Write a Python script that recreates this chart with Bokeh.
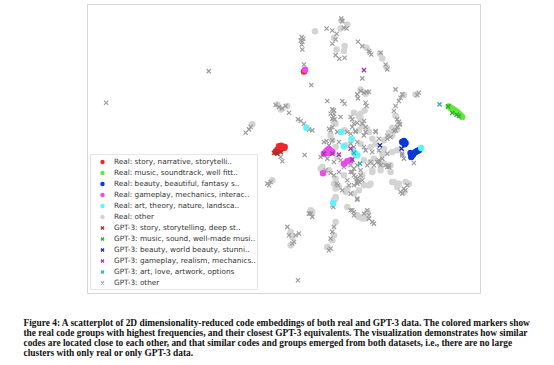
from bokeh.plotting import figure
from bokeh.models import Range1d, Legend, LegendItem, ColumnDataSource, BoxAnnotation
from bokeh.core.properties import value
from bokeh.embed import file_html
from bokeh.resources import INLINE

# 2D embedding coordinates (dim1, dim2) (dim2 grows downward)
real_other = [
    (703,92),(782,60),(760,112),(768,147),(792,137),(790,152),(800,72),(780,84),
    (858,142),(898,160),(905,174),(918,200),(840,267),(855,280),(970,284),(1005,282),
    (852,330),(945,347),(820,337),(835,347),(845,377),(860,387),(935,382),(925,397),(950,387),
    (590,312),(600,327),(620,317),(515,372),(792,390),
    (760,365),(840,340),(840,355),(765,370),(750,405),(835,390),(865,395),(875,415),(885,430),
    (910,420),(935,405),(955,370),(755,420),(765,440),(795,435),(840,430),(870,440),(910,445),
    (905,460),(935,455),(950,450),(770,470),(850,480),(880,475),(910,490),(725,500),(745,510),
    (765,535),(790,525),(850,555),(865,555),(875,515),(900,510),(930,515),(940,545),(955,550),
    (975,545),(775,560),(800,565),(835,570),(765,590),(760,600),(800,620),(830,645),(855,655),
    (690,630),(575,540),(720,505),(760,550),(765,565),(795,575),(765,595),(695,635),(765,665),
    (760,705),(755,720),(740,740),(630,695),(635,710),(630,735),(870,485),(900,490),(930,495),
    (830,540),(845,525),(870,550),(875,510),(935,545),(950,560),(985,550),(970,575),(820,580),
    (835,650),(845,655),(860,635),
]
gpt_other = [
    (663,110),(668,115),(660,120),(665,124),(663,132),(665,147),(738,84),(755,90),(782,54),
    (785,62),(790,82),(798,84),(768,100),(765,117),(755,130),(765,164),(776,175),(792,172),
    (670,192),(692,254),(832,124),(845,137),(868,157),(872,162),(865,152),(900,157),(915,192),
    (920,207),(845,234),(945,267),(830,282),(840,272),(850,277),(858,274),(865,274),(832,294),
    (855,307),(858,317),(965,282),(960,292),(955,302),(1015,277),(1010,284),(945,317),(940,332),
    (950,357),(955,364),(815,357),(830,367),(850,362),(825,392),(885,392),(940,392),(958,372),
    (920,407),(930,410),(585,314),(595,320),(605,324),(615,317),(625,337),(652,357),(660,362),
    (670,370),(685,387),(695,390),(495,397),(505,387),(510,380),(600,470),(605,483),(672,464),
    (560,550),(570,545),(565,555),(384,212),(76,307),(740,302),(755,327),(760,340),(758,350),
    (762,357),(785,302),(792,310),(750,390),(770,394),(738,422),(755,420),(750,340),(760,330),
    (755,355),(780,350),(810,350),(820,370),(815,380),(845,370),(855,380),(855,395),(745,385),
    (755,380),(770,395),(800,395),(810,400),(825,395),(850,405),(885,395),(895,415),(920,415),
    (945,390),(950,380),(730,425),(745,435),(775,425),(810,430),(820,440),(830,425),(850,440),
    (855,450),(875,455),(895,450),(920,460),(965,460),(970,475),(720,470),(740,475),(760,485),
    (780,480),(790,500),(810,495),(820,505),(830,495),(840,510),(860,495),(870,485),(890,485),
    (895,480),(905,475),(900,495),(920,500),(925,495),(760,525),(775,515),(810,515),(820,525),
    (830,535),(840,525),(830,545),(845,540),(960,575),(970,565),(980,555),(785,570),(810,580),
    (830,595),(755,615),(810,630),(820,635),(850,640),(860,630),(865,645),(685,640),(695,650),
    (735,510),(750,518),(768,550),(772,555),(800,540),(805,555),(758,620),(690,640),(760,680),
    (755,695),(750,715),(745,750),(750,745),(620,680),(625,705),(645,705),(655,700),(640,725),
    (635,730),(652,840),(1000,488),(965,465),(880,495),(895,485),(915,495),(925,500),(815,515),
    (825,530),(835,545),(830,550),(820,555),(965,580),(975,570),(830,598),(815,630),(820,645),
    (865,655),(875,665),(880,670),
]
real_story = [(670,213),(595,438),(602,436),(610,443),(605,440),(590,448),(598,450),(585,455),(612,440)]
gpt_story = [(580,458),(590,460),(600,455),(585,452)]
real_music = [(1110,322),(1120,328),(1125,332),(1130,335),(1135,340),(1140,345),(1145,350),(1105,318),(1115,325)]
gpt_music = [(1103,318),(1115,338),(1128,343),(1135,347)]
real_beauty = [(965,425),(970,422),(975,428),(972,432),(990,458),(995,465),(992,470),(998,462),(1005,455),(1010,452),(1015,450)]
gpt_beauty = [(898,435),(963,445)]
real_gameplay = [(673,208),(735,455),(740,450),(745,446),(750,452),(745,458),(755,455),(730,460),(727,519),(790,490),(800,483),(810,480)]
gpt_gameplay = [(850,209),(730,460),(775,463),(810,445),(815,478),(755,460)]
real_art = [(677,382),(782,395),(813,416),(790,438),(825,462),(830,465),(758,608),(1022,443),(820,455)]
gpt_art = [(1077,312),(838,490),(820,458)]

labels_real = ["Real: story, narrative, storytelli..", "Real: music, soundtrack, well fitt..",
               "Real: beauty, beautiful, fantasy s..", "Real: gameplay, mechanics, interac..",
               "Real: art, theory, nature, landsca..", "Real: other"]
labels_gpt = ["GPT-3: story, storytelling, deep st..", "GPT-3: music, sound, well-made musi..",
              "GPT-3: beauty, world beauty, stunni..", "GPT-3: gameplay, realism, mechanics..",
              "GPT-3: art, love, artwork, options", "GPT-3: other"]
colors_real = ["#ec2a2a", "#5fe83a", "#0838d8", "#ee48ee", "#5ff2ff", "#d4d4d4"]
colors_gpt = ["#b42828", "#34a834", "#1a26a8", "#a436b4", "#3aacb0", "#9c9c9c"]

caption = [
    "Figure 4: A scatterplot of 2D dimensionality-reduced code embeddings of both real and GPT-3 data. The colored markers show",
    "the real code groups with highest frequencies, and their closest GPT-3 equivalents. The visualization demonstrates how similar",
    "codes are located close to each other, and that similar codes and groups emerged from both datasets, i.e., there are no large",
    "clusters with only real or only GPT-3 data.",
]

# ---- layout (pixels) ----
W, H = 554, 365
AX_L, AX_R, AX_T, AX_B = 87, 480, 4, 293          # axes box in pixels
X0, X1, Y0, Y1 = 20, 1200, 12, 880                # data limits of the axes box
sx = (X1 - X0) / (AX_R - AX_L)
sy = (Y1 - Y0) / (AX_B - AX_T)
xr = Range1d(X0 - AX_L * sx, X1 + (W - AX_R) * sx)
yr = Range1d(Y1 + (H - AX_B) * sy, Y0 - AX_T * sy)   # dim2 grows downward

p = figure(width=W, height=H, output_backend="svg", toolbar_location=None,
           x_range=xr, y_range=yr, x_axis_location=None, y_axis_location=None,
           min_border=0, min_border_left=0, min_border_right=0,
           min_border_top=0, min_border_bottom=0)
p.xgrid.visible = False
p.ygrid.visible = False
p.outline_line_color = None
p.background_fill_color = "white"
p.border_fill_color = "white"

# axes box
p.add_layout(BoxAnnotation(left=X0, right=X1, top=Y0, bottom=Y1, fill_alpha=0,
                           line_color="#767676", line_width=1, level="underlay"))


def xs(pts):
    return [a for a, b in pts]


def ys(pts):
    return [b for a, b in pts]


real_groups = [real_story, real_music, real_beauty, real_gameplay, real_art, real_other]
gpt_groups = [gpt_story, gpt_music, gpt_beauty, gpt_gameplay, gpt_art, gpt_other]

# grey first, coloured on top
r_ro = p.scatter(xs(real_other), ys(real_other), marker="circle", size=6.5,
                 fill_color=colors_real[5], line_color=None)
r_go = p.scatter(xs(gpt_other), ys(gpt_other), marker="x", size=6,
                 line_color=colors_gpt[5], line_width=1.2)
real_r = []
gpt_r = []
for i in range(5):
    real_r.append(p.scatter(xs(real_groups[i]), ys(real_groups[i]), marker="circle", size=6.5,
                            fill_color=colors_real[i], line_color=None))
for i in range(5):
    gpt_r.append(p.scatter(xs(gpt_groups[i]), ys(gpt_groups[i]), marker="x", size=6,
                           line_color=colors_gpt[i], line_width=1.3))
real_r.append(r_ro)
gpt_r.append(r_go)

items = [LegendItem(label=labels_real[i], renderers=[real_r[i]]) for i in range(6)]
items += [LegendItem(label=labels_gpt[i], renderers=[gpt_r[i]]) for i in range(6)]
legend = Legend(items=items, location=(90, H - 290), margin=0, padding=1, spacing=0,
                glyph_height=11, glyph_width=20, label_height=11, label_standoff=2,
                label_text_font="DejaVu Sans", label_text_font_size="7.3px",
                label_text_color="#333333", label_text_baseline="middle",
                border_line_color="#cccccc", border_line_width=1,
                background_fill_color="white", background_fill_alpha=0.8)
p.add_layout(legend)

# caption below the axes box
first_line_px, line_gap_px, left_px = 322, 10, 23
cap_src = ColumnDataSource(dict(
    x=[X0 + (left_px - AX_L) * sx] * len(caption),
    y=[Y0 + (first_line_px + line_gap_px * k - AX_T) * sy for k in range(len(caption))],
    t=caption))
p.text(x="x", y="y", text="t", source=cap_src,
       text_font=value("Liberation Serif"), text_font_style="bold",
       text_font_size="9.4px", text_color="#111111",
       text_baseline="middle", text_align="left")

open("out.html", "w").write(file_html(p, INLINE))
